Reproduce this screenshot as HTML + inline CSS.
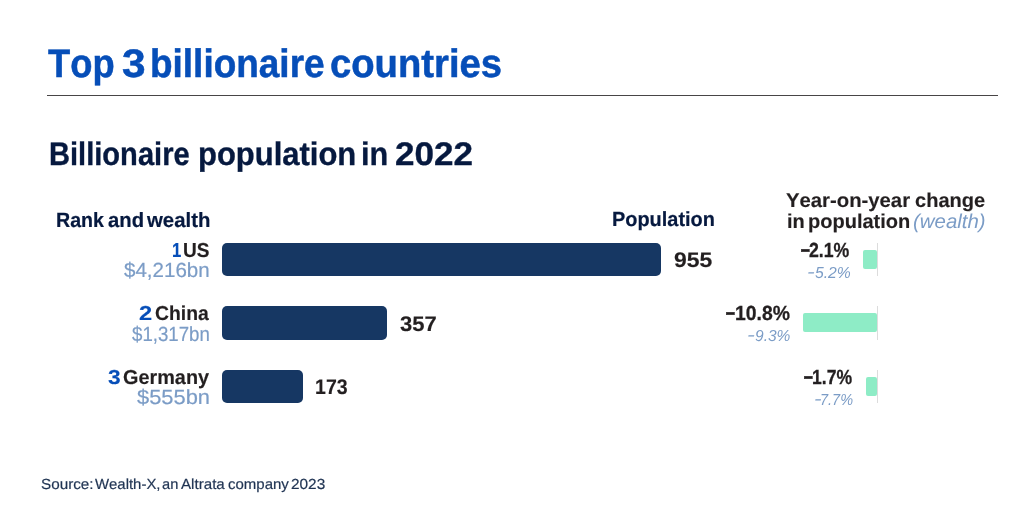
<!DOCTYPE html>
<html lang="en">
<head>
<meta charset="utf-8">
<title>Top 3 billionaire countries</title>
<style>
html,body{margin:0;padding:0;background:#fff}
body{width:1024px;height:526px;position:relative;overflow:hidden;font-family:"Liberation Sans",Arial,sans-serif}
.g{position:absolute;left:0;top:0;margin:0;white-space:nowrap;line-height:1;font-kerning:none;text-rendering:geometricPrecision}
.g span{position:absolute;top:0;white-space:nowrap;transform-origin:0 50%}
.rule{position:absolute;left:47.4px;top:94.5px;width:950.6px;height:1.4px;background:#484546}
.bar{position:absolute;background:#163763;border-radius:5px;height:33.5px;left:222.3px}
.gb{position:absolute;background:#8eecc6;border-radius:2px;height:19px}
.ax{position:absolute;left:876.8px;width:1.2px;background:#dcdcdc;height:33.5px}
</style>
</head>
<body>
<div class="g title" style="top:45px;font-size:39.8px;font-weight:bold;font-style:normal;color:#064eb8;-webkit-text-stroke:0.5px #064eb8"><span style="left:47.99px;transform:scaleX(0.9131)">Top</span> <span style="left:121.53px;transform:scaleX(1.0666)">3</span> <span style="left:150.06px;transform:scaleX(0.9288)">billionaire</span> <span style="left:329.91px;transform:scaleX(0.9605)">countries</span></div>
<div class="g sub" style="top:138px;font-size:32.6px;font-weight:bold;font-style:normal;color:#06193f;-webkit-text-stroke:0.35px #06193f"><span style="left:48.95px;transform:scaleX(0.8930)">Billionaire</span> <span style="left:198.06px;transform:scaleX(0.9507)">population</span> <span style="left:361.46px;transform:scaleX(0.9403)">in</span> <span style="left:394.58px;transform:scaleX(1.0758)">2022</span></div>
<div class="g h1" style="top:211px;font-size:20.7px;font-weight:bold;font-style:normal;color:#06193f;-webkit-text-stroke:0.2px #06193f"><span style="left:55.99px;transform:scaleX(0.9482)">Rank</span> <span style="left:107.81px;transform:scaleX(0.9790)">and</span> <span style="left:146.86px;transform:scaleX(0.9843)">wealth</span></div>
<div class="g h2" style="top:210px;font-size:20.5px;font-weight:bold;font-style:normal;color:#06193f;-webkit-text-stroke:0.2px #06193f"><span style="left:611.97px;transform:scaleX(0.9713)">Population</span></div>
<div class="g h3" style="top:191px;font-size:20px;font-weight:bold;font-style:normal;color:#231f20;-webkit-text-stroke:0.15px #231f20"><span style="left:785.85px;transform:scaleX(1.0145)">Year-on-year</span> <span style="left:914.62px;transform:scaleX(1.0021)">change</span></div>
<div class="g h4" style="top:212px;font-size:20px;font-weight:bold;font-style:normal;color:#231f20;-webkit-text-stroke:0.15px #231f20"><span style="left:787.21px;transform:scaleX(0.9976)">in</span> <span style="left:807.78px;transform:scaleX(1.0006)">population</span> <span style="left:912.74px;transform:scaleX(1.0202);color:#7b9cc6;font-weight:normal;-webkit-text-stroke-width:0;font-style:italic">(wealth)</span></div>
<div class="g r1" style="top:241px;font-size:20.2px;font-weight:bold;font-style:normal;color:#231f20;-webkit-text-stroke:0.15px #231f20"><span style="left:172.14px;transform:scaleX(0.8298);color:#064eb8;-webkit-text-stroke-color:#064eb8">1</span> <span style="left:183.35px;transform:scaleX(0.9440)">US</span></div>
<div class="g r2" style="top:304px;font-size:20.2px;font-weight:bold;font-style:normal;color:#231f20;-webkit-text-stroke:0.15px #231f20"><span style="left:138.88px;transform:scaleX(1.1722);color:#064eb8;-webkit-text-stroke-color:#064eb8">2</span> <span style="left:154.70px;transform:scaleX(0.9601)">China</span></div>
<div class="g r3" style="top:368px;font-size:20.2px;font-weight:bold;font-style:normal;color:#231f20;-webkit-text-stroke:0.15px #231f20"><span style="left:107.88px;transform:scaleX(1.1254);color:#064eb8;-webkit-text-stroke-color:#064eb8">3</span> <span style="left:122.99px;transform:scaleX(0.9834)">Germany</span></div>
<div class="g w1" style="top:261px;font-size:20.5px;font-weight:normal;font-style:normal;color:#7b9cc6;-webkit-text-stroke:0.2px #7b9cc6"><span style="left:124.48px;transform:scaleX(1.0018)">$4,216bn</span></div>
<div class="g w2" style="top:325px;font-size:20.5px;font-weight:normal;font-style:normal;color:#7b9cc6;-webkit-text-stroke:0.2px #7b9cc6"><span style="left:132.30px;transform:scaleX(0.9100)">$1,317bn</span></div>
<div class="g w3" style="top:388px;font-size:20.5px;font-weight:normal;font-style:normal;color:#7b9cc6;-webkit-text-stroke:0.2px #7b9cc6"><span style="left:137.47px;transform:scaleX(1.0665)">$555bn</span></div>
<div class="g v1" style="top:250px;font-size:21.1px;font-weight:bold;font-style:normal;color:#231f20;-webkit-text-stroke:0.15px #231f20"><span style="left:673.90px;transform:scaleX(1.0890)">955</span></div>
<div class="g v2" style="top:314px;font-size:21.1px;font-weight:bold;font-style:normal;color:#231f20;-webkit-text-stroke:0.15px #231f20"><span style="left:400.39px;transform:scaleX(1.0446)">357</span></div>
<div class="g v3" style="top:377px;font-size:21.1px;font-weight:bold;font-style:normal;color:#231f20;-webkit-text-stroke:0.15px #231f20"><span style="left:314.97px;transform:scaleX(0.9271)">173</span></div>
<div class="g p1" style="top:241px;font-size:20.4px;font-weight:bold;font-style:normal;color:#231f20;-webkit-text-stroke:0.3px #231f20"><span style="left:799.65px;transform:translateY(-1px) scale(1.5638,1.05)">-</span><span style="left:809.49px;transform:scaleX(0.8685)">2.1%</span></div>
<div class="g p2" style="top:304px;font-size:20.4px;font-weight:bold;font-style:normal;color:#231f20;-webkit-text-stroke:0.3px #231f20"><span style="left:725.24px;transform:translateY(-1px) scale(1.5831,1.05)">-</span><span style="left:734.98px;transform:scaleX(0.9497)">10.8%</span></div>
<div class="g p3" style="top:368px;font-size:20.4px;font-weight:bold;font-style:normal;color:#231f20;-webkit-text-stroke:0.3px #231f20"><span style="left:803.25px;transform:translateY(-1px) scale(1.5638,1.05)">-</span><span style="left:812.39px;transform:scaleX(0.8618)">1.7%</span></div>
<div class="g q1" style="top:266px;font-size:15.9px;font-weight:normal;font-style:italic;color:#7b9cc6"><span style="left:807.31px;transform:translateY(-1px) scaleX(1.4554)">-</span><span style="left:814.55px;transform:scaleX(0.9886)">5.2%</span></div>
<div class="g q2" style="top:329px;font-size:15.9px;font-weight:normal;font-style:italic;color:#7b9cc6"><span style="left:747.09px;transform:translateY(-1px) scaleX(1.4797)">-</span><span style="left:755.07px;transform:scaleX(0.9767)">9.3%</span></div>
<div class="g q3" style="top:393px;font-size:15.9px;font-weight:normal;font-style:italic;color:#7b9cc6"><span style="left:813.63px;transform:translateY(-1px) scaleX(1.4312)">-</span><span style="left:819.90px;transform:scaleX(0.9112)">7.7%</span></div>
<div class="g src" style="top:478px;font-size:14.6px;font-weight:normal;font-style:normal;color:#1f3352;-webkit-text-stroke:0.2px #1f3352"><span style="left:40.91px;transform:scaleX(1.0451)">Source:</span> <span style="left:94.53px;transform:scaleX(1.0220)">Wealth-X,</span> <span style="left:162.48px;transform:scaleX(1.0020)">an</span> <span style="left:180.97px;transform:scaleX(1.0375)">Altrata</span> <span style="left:227.66px;transform:scaleX(1.0274)">company</span> <span style="left:290.83px;transform:scaleX(1.0545)">2023</span></div>
<div class="rule"></div>
<div class="bar" style="top:242.7px;width:439.2px"></div>
<div class="bar" style="top:306.3px;width:165.0px"></div>
<div class="bar" style="top:369.7px;width:80.5px"></div>
<div class="gb" style="top:249.8px;left:862.8px;width:14.1px"></div>
<div class="gb" style="top:313.4px;left:803.1px;width:73.8px"></div>
<div class="gb" style="top:376.9px;left:865.5px;width:11.4px"></div>
<div class="ax" style="top:242.7px"></div>
<div class="ax" style="top:306.3px"></div>
<div class="ax" style="top:369.7px"></div>
</body>
</html>
